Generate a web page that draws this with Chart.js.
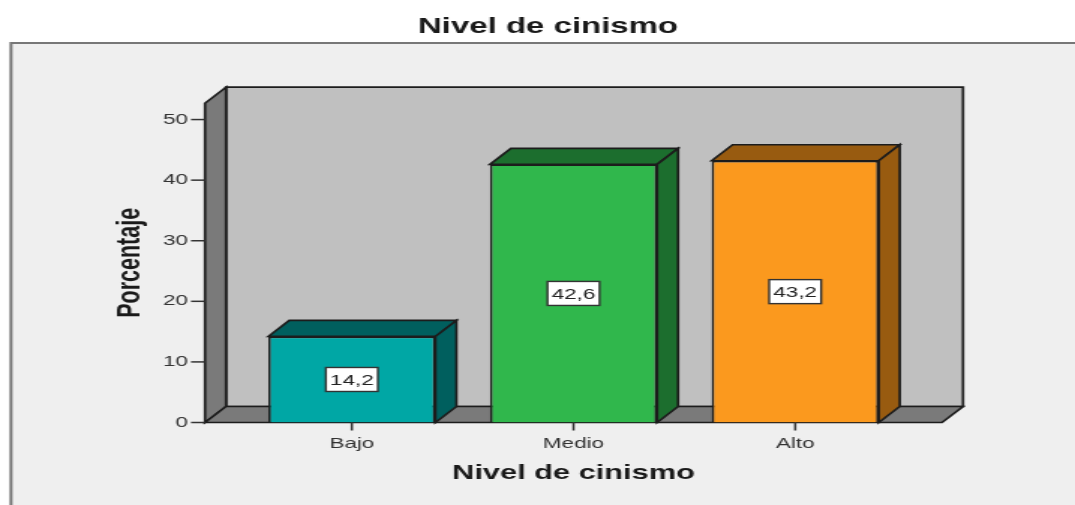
<!DOCTYPE html>
<html lang="es">
<head>
<meta charset="utf-8">
<title>Nivel de cinismo</title>
<script src="https://cdn.jsdelivr.net/npm/chart.js@4"></script>
<style>
html,body{margin:0;padding:0;background:#fff;overflow:hidden}
canvas{display:block;width:1075px !important;height:505px !important;filter:blur(0.5px)}
</style>
</head>
<body>
<canvas id="c" width="717" height="505"></canvas>
<script>
const categories = ['Bajo', 'Medio', 'Alto'];
const percentages = [14.2, 42.6, 43.2];
const frontColors = ['#00A7A5', '#30B74C', '#FB991E'];
const shadeColors = ['#005F5E', '#1C6E2E', '#985B10'];
const yStep = 10;
const chartTitle = 'Nivel de cinismo';
const xTitle = 'Nivel de cinismo';
const yTitle = 'Porcentaje';

const SX = 1075 / 717;           // the whole picture is stretched horizontally
const px = v => v / SX;
const DX = px(21), DY = 16;      // 3D depth
const OUT = '#1c1c1c';
const LW = 1.7;

function poly(ctx, pts, fill, stroke) {
  ctx.beginPath();
  pts.forEach((p, i) => i ? ctx.lineTo(p[0], p[1]) : ctx.moveTo(p[0], p[1]));
  ctx.closePath();
  ctx.fillStyle = fill; ctx.fill();
  ctx.lineWidth = LW; ctx.strokeStyle = stroke || OUT; ctx.lineJoin = 'miter'; ctx.stroke();
}

const threeD = {
  id: 'threeD',
  afterLayout(chart) {
    // the title is centred over the framed panel, not over the axis box
    chart.titleBlock.left = px(190);
    chart.titleBlock.right = px(906);
  },
  beforeDraw(chart) {
    const ctx = chart.ctx, w = chart.width, h = chart.height;
    ctx.save();
    ctx.fillStyle = '#fff'; ctx.fillRect(0, 0, w, h);
    ctx.fillStyle = '#EFEFEF'; ctx.fillRect(px(11), 43, w, h);
    ctx.strokeStyle = '#777'; ctx.lineWidth = 2;
    ctx.beginPath(); ctx.moveTo(px(11), h); ctx.lineTo(px(11), 43); ctx.lineTo(w, 43); ctx.stroke();
    ctx.restore();
  },
  beforeDatasetsDraw(chart) {
    const ctx = chart.ctx, a = chart.chartArea, ys = chart.scales.y;
    const l = a.left - px(36), r = a.right + px(36), t = a.top, b = a.bottom;
    ctx.save();
    // back wall
    poly(ctx, [[l + DX, t - DY], [r + DX, t - DY], [r + DX, b - DY], [l + DX, b - DY]], '#C0C0C0');
    // left wall
    poly(ctx, [[l, t], [l + DX, t - DY], [l + DX, b - DY], [l, b]], '#7A7A7A');
    // floor
    poly(ctx, [[l, b], [l + DX, b - DY], [r + DX, b - DY], [r, b]], '#7A7A7A');
    // y ticks
    ctx.strokeStyle = '#333'; ctx.lineWidth = 1.5;
    ys.ticks.forEach(tick => {
      const y = ys.getPixelForValue(tick.value);
      ctx.beginPath(); ctx.moveTo(l - px(14), y); ctx.lineTo(l, y); ctx.stroke();
    });
    // x ticks
    categories.forEach((c, i) => {
      const x = chart.scales.x.getPixelForValue(i);
      ctx.beginPath(); ctx.moveTo(x, b); ctx.lineTo(x, b + 8); ctx.stroke();
    });
    // bar depth faces
    chart.getDatasetMeta(0).data.forEach((bar, i) => {
      const p = bar.getProps(['x', 'y', 'base', 'width'], true);
      const x0 = p.x - p.width / 2, x1 = p.x + p.width / 2;
      poly(ctx, [[x0, p.y], [x0 + DX, p.y - DY], [x1 + DX, p.y - DY], [x1, p.y]], shadeColors[i]);
      poly(ctx, [[x1, p.y], [x1 + DX, p.y - DY], [x1 + DX, p.base - DY], [x1, p.base]], shadeColors[i]);
    });
    ctx.restore();
  },
  afterDatasetsDraw(chart) {
    const ctx = chart.ctx, ys = chart.scales.y;
    ctx.save();
    ctx.font = '15px "Liberation Sans", Arial, sans-serif';
    ctx.textAlign = 'center'; ctx.textBaseline = 'middle';
    chart.getDatasetMeta(0).data.forEach((bar, i) => {
      const v = percentages[i];
      const y = ys.getPixelForValue(v / 2);
      const bw = px(52), bh = 24;
      ctx.fillStyle = '#fff'; ctx.strokeStyle = '#333'; ctx.lineWidth = 1.4;
      ctx.fillRect(bar.x - bw / 2, y - bh / 2, bw, bh);
      ctx.strokeRect(bar.x - bw / 2, y - bh / 2, bw, bh);
      ctx.fillStyle = '#222';
      ctx.fillText(v.toFixed(1).replace('.', ','), bar.x, y + 1);
    });
    ctx.restore();
  }
};

new Chart(document.getElementById('c'), {
  type: 'bar',
  data: {
    labels: categories,
    datasets: [{
      data: percentages,
      backgroundColor: frontColors,
      borderColor: OUT,
      borderWidth: LW,
      barPercentage: 0.754,
      categoryPercentage: 1
    }]
  },
  plugins: [threeD],
  options: {
    responsive: false,
    animation: false,
    devicePixelRatio: 1,
    layout: { padding: { left: px(100), right: px(169), top: 0, bottom: 0 } },
    plugins: {
      legend: { display: false },
      tooltip: { enabled: false },
      title: {
        display: true,
        text: chartTitle,
        color: '#1a1a1a',
        font: { family: '"Liberation Sans", Arial, sans-serif', size: 22, weight: 'bold', lineHeight: 1.2 },
        padding: { top: 13.8, bottom: 63 }
      }
    },
    scales: {
      x: {
        grid: { display: false, drawTicks: false },
        border: { display: false },
        ticks: { padding: 12, color: '#333', font: { family: '"Liberation Sans", Arial, sans-serif', size: 15 }, maxRotation: 0 },
        title: {
          display: true, text: xTitle, color: '#1a1a1a',
          font: { family: '"Liberation Sans", Arial, sans-serif', size: 20.5, weight: 'bold', lineHeight: 1.2 },
          padding: { top: 0, bottom: 19.7 }
        },
        afterFit(s) { s.height = 505 - 422.5; }
      },
      y: {
        min: 0,
        max: 52.7,
        grid: { display: false, drawTicks: false },
        border: { display: false },
        ticks: {
          stepSize: yStep,
          padding: px(53), color: '#333', includeBounds: false,
          font: { family: '"Liberation Sans", Arial, sans-serif', size: 15 }
        },
        title: {
          display: true, text: yTitle, color: '#1a1a1a',
          font: { family: '"Liberation Sans", Arial, sans-serif', size: 21.5, weight: 'bold', lineHeight: 1.2 },
          padding: { top: 7.7, bottom: 0 }
        },
        afterFit(s) { s.width = px(141); }
      }
    }
  }
});
</script>
</body>
</html>
